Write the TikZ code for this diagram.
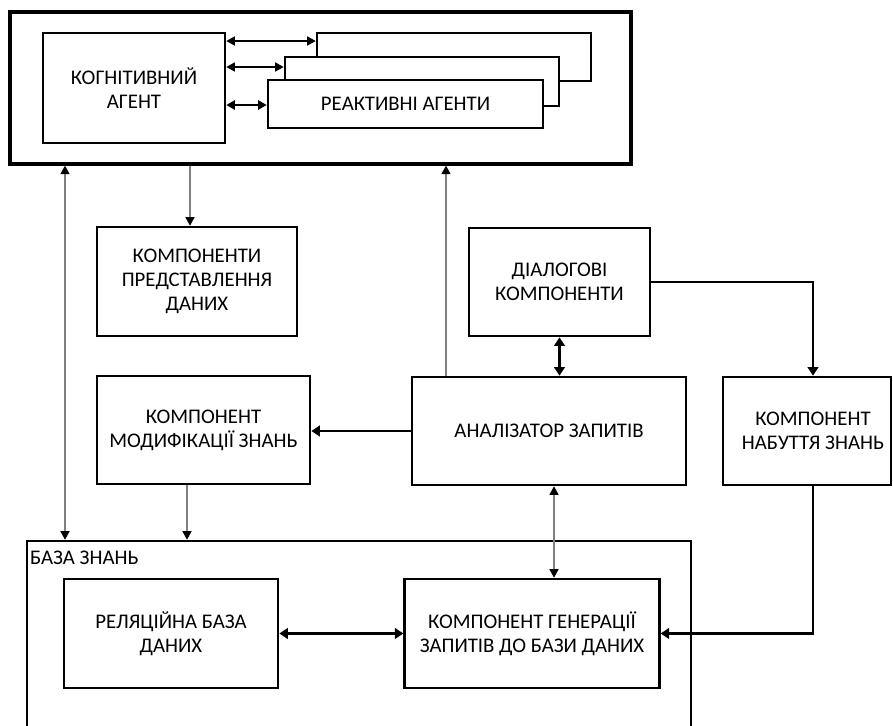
\documentclass[tikz,border=0pt]{standalone}
\usepackage{fontspec}
\setmainfont{Carlito}
\usetikzlibrary{arrows.meta}
\begin{document}
\begin{tikzpicture}[x=1pt,y=-1pt,
  lbl/.style={font=\fontsize{20.8}{24}\selectfont},
  blk/.style={draw, line width=2.6pt, rectangle, inner sep=0pt, align=center, fill=white, lbl},
  txt/.style={inner sep=0pt, align=center, lbl},
  thinc/.style={line width=1.3pt, draw=black!50},
  thinb/.style={line width=1.4pt, draw=black},
  thickc/.style={line width=2.8pt, draw=black},
  tn/.tip={Triangle[length=8.5pt,width=9pt,color=black]},
  tk/.tip={Triangle[length=8.5pt,width=10.5pt,color=black]}
]
\useasboundingbox (0,0) rectangle (893,725);

% boxes
\node[blk, line width=3.2pt, minimum width=621pt, minimum height=152pt] (outer) at (320.5,88) {};
\node[blk, minimum width=182pt, minimum height=110pt] (cog) at (134,88) {КОГНІТИВНИЙ\\АГЕНТ};
\node[blk, minimum width=274pt, minimum height=48pt] (back) at (454,57) {};
\node[blk, minimum width=274pt, minimum height=49pt] (mid) at (422,81.5) {};
\node[blk, minimum width=275pt, minimum height=48pt] (front) at (405.5,104) {РЕАКТИВНІ АГЕНТИ};

\node[blk, minimum width=200pt, minimum height=109pt] (pred) at (197,281.5) {КОМПОНЕНТИ\\ПРЕДСТАВЛЕННЯ\\ДАНИХ};
\node[blk, minimum width=181pt, minimum height=108pt] (dial) at (559.5,282) {ДІАЛОГОВІ\\КОМПОНЕНТИ};
\node[blk, minimum width=274pt, minimum height=108pt] (anal) at (549,431) {АНАЛІЗАТОР ЗАПИТІВ};
\node[blk, minimum width=213pt, minimum height=108pt] (modif) at (203.5,430) {КОМПОНЕНТ\\МОДИФІКАЦІЇ ЗНАНЬ};
\node[blk, minimum width=168pt, minimum height=108pt] (nab) at (807,431) {};
\node[txt] (nabt) at (813,431) {КОМПОНЕНТ\\НАБУТТЯ ЗНАНЬ};

\node[blk, minimum width=664pt, minimum height=189pt] (kb) at (359,635.5) {};
\node[txt, anchor=base west] (kbt) at (30,564) {БАЗА ЗНАНЬ};
\node[blk, minimum width=214pt, minimum height=109pt] (rel) at (171,633.5) {РЕЛЯЦІЙНА БАЗА\\ДАНИХ};
\node[blk, minimum width=254.5pt, minimum height=109pt] (gen) at (532,633.5) {КОМПОНЕНТ ГЕНЕРАЦІЇ\\ЗАПИТІВ ДО БАЗИ ДАНИХ};

% connectors in the agent block
\draw[thinb, tn-tn] (cog.east |- 0,41) -- (back.west |- 0,41);
\draw[thinb, tn-tn] (cog.east |- 0,67) -- (mid.west |- 0,67);
\draw[line width=2.2pt, tn-tn] (cog.east |- 0,105) -- (front.west |- 0,105);

% thin grey connectors
\draw[thinc, tn-tn] (outer.south -| 65,0) -- (kb.north -| 65,0);
\draw[thinc, -tn] (outer.south -| 190,0) -- (pred.north -| 190,0);
\draw[thinc, -tn] (anal.north -| 446,0) -- (outer.south -| 446,0);
\draw[thinc, -tn] (modif.south -| 187,0) -- (kb.north -| 187,0);
\draw[thinc, tn-tn] (anal.south -| 554,0) -- (gen.north -| 554,0);

% thick connectors
\draw[thickc, tk-tk] (dial.south) -- (dial.south |- anal.north);
\draw[thickc, -tk] (dial.east) -| (nabt |- nab.north);
\draw[thickc, -tk] (anal.west) -- (anal.west -| modif.east);
\draw[thickc, tk-tk] (rel.east) -- (gen.west);
\draw[thickc, -tk] (nabt |- nab.south) |- (gen.east);
\end{tikzpicture}
\end{document}
